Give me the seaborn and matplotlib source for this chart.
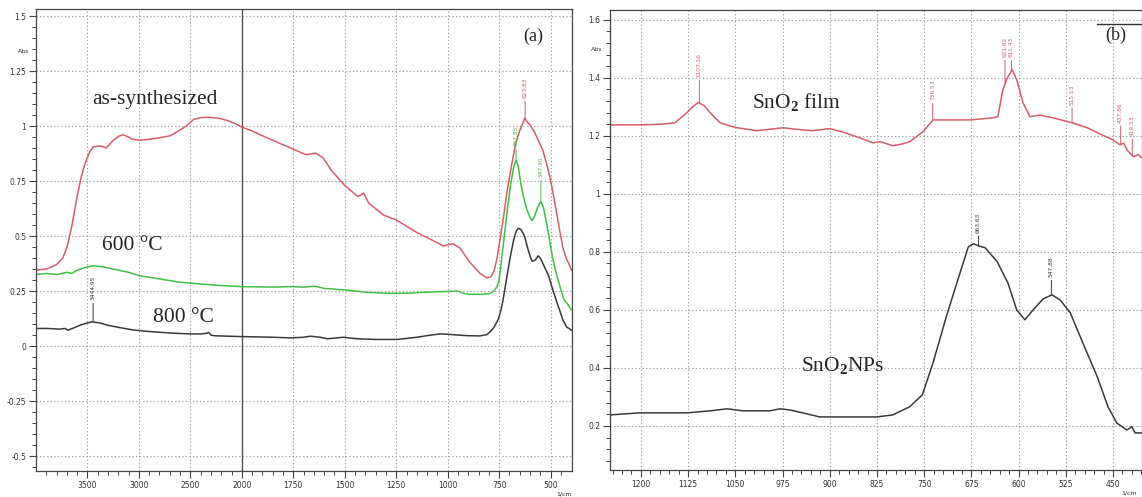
import numpy as np
import pandas as pd
import matplotlib
matplotlib.use("Agg")
import matplotlib.pyplot as plt
import seaborn as sns
from matplotlib.ticker import FixedLocator, FixedFormatter

# ---- panel (a): FTIR spectra, wavenumber (1/cm) vs absorbance ----
wn_asyn = [4000, 3900, 3800, 3740, 3698, 3650, 3600, 3560, 3523, 3480, 3444, 3376, 3318, 3249, 3190, 3152,
           3100, 3064, 2986, 2900, 2820, 2700, 2625, 2540, 2468, 2400, 2322, 2220, 2137, 2060, 2000, 1956,
           1874, 1800, 1750, 1690, 1640, 1605, 1566, 1500, 1437, 1415, 1408, 1384, 1311, 1250, 1148, 1051,
           1022, 990, 974, 940, 892, 843, 810, 790, 775, 760, 748, 730, 712, 690, 670, 650, 636, 626, 615,
           600, 580, 567, 550, 538, 520, 504, 487, 470, 455, 441, 425, 412, 398]
abs_asyn = [0.345, 0.35, 0.37, 0.40, 0.45, 0.55, 0.68, 0.77, 0.83, 0.88, 0.905, 0.91, 0.90, 0.935, 0.955, 0.96,
            0.95, 0.94, 0.935, 0.94, 0.945, 0.955, 0.975, 1.00, 1.03, 1.038, 1.04, 1.035, 1.025, 1.01, 0.995, 0.98,
            0.945, 0.915, 0.895, 0.87, 0.877, 0.855, 0.80, 0.73, 0.68, 0.69, 0.695, 0.65, 0.595, 0.573, 0.515, 0.47,
            0.455, 0.462, 0.465, 0.445, 0.38, 0.33, 0.31, 0.315, 0.34, 0.40, 0.47, 0.58, 0.70, 0.82, 0.92, 0.98,
            1.01, 1.036, 1.02, 1.005, 0.975, 0.95, 0.915, 0.89, 0.83, 0.77, 0.69, 0.60, 0.52, 0.45, 0.40, 0.375,
            0.345]

wn_600 = [4000, 3900, 3800, 3700, 3650, 3600, 3500, 3440, 3350, 3250, 3100, 3000, 2800, 2600, 2400, 2200,
          2000, 1850, 1760, 1700, 1645, 1600, 1500, 1400, 1300, 1200, 1100, 1000, 950, 925, 900, 840, 800,
          775, 760, 750, 740, 725, 710, 695, 680, 668, 658, 645, 630, 615, 600, 590, 578, 565, 553, 546, 535,
          520, 505, 490, 470, 450, 435, 420, 410, 400]
abs_600 = [0.325, 0.33, 0.325, 0.335, 0.33, 0.345, 0.36, 0.365, 0.36, 0.35, 0.335, 0.32, 0.305, 0.29, 0.282,
           0.275, 0.27, 0.268, 0.27, 0.268, 0.272, 0.262, 0.255, 0.245, 0.24, 0.24, 0.245, 0.248, 0.25, 0.24,
           0.235, 0.235, 0.237, 0.25, 0.27, 0.30, 0.38, 0.50, 0.62, 0.73, 0.81, 0.845, 0.82, 0.74, 0.67, 0.62,
           0.585, 0.57, 0.59, 0.625, 0.65, 0.655, 0.63, 0.56, 0.48, 0.40, 0.32, 0.255, 0.21, 0.195, 0.18, 0.165]

wn_800 = [4000, 3900, 3767, 3720, 3688, 3620, 3571, 3500, 3454, 3380, 3308, 3200, 3054, 2900, 2722, 2600,
          2507, 2400, 2340, 2322, 2300, 2273, 2150, 2000, 1850, 1763, 1700, 1666, 1620, 1583, 1540, 1506,
          1470, 1438, 1350, 1244, 1150, 1080, 1036, 990, 953, 900, 842, 810, 794, 775, 755, 742, 731, 715,
          697, 680, 668, 658, 645, 632, 624, 610, 600, 590, 575, 561, 550, 530, 510, 489, 470, 455, 441, 430,
          421, 410, 397]
abs_800 = [0.08, 0.08, 0.077, 0.08, 0.072, 0.085, 0.095, 0.105, 0.11, 0.105, 0.095, 0.085, 0.073, 0.066, 0.06,
           0.057, 0.055, 0.055, 0.058, 0.062, 0.05, 0.047, 0.045, 0.043, 0.04, 0.037, 0.04, 0.045, 0.04, 0.033,
           0.037, 0.04, 0.036, 0.033, 0.03, 0.03, 0.04, 0.05, 0.055, 0.053, 0.05, 0.047, 0.046, 0.052, 0.065,
           0.085, 0.12, 0.16, 0.21, 0.30, 0.40, 0.48, 0.52, 0.535, 0.53, 0.51, 0.49, 0.44, 0.41, 0.385, 0.39,
           0.41, 0.40, 0.36, 0.32, 0.255, 0.20, 0.16, 0.12, 0.10, 0.085, 0.08, 0.07]

# ---- panel (b) ----
wn_film = [1249, 1202, 1170, 1146, 1127, 1118, 1109, 1100, 1090, 1074, 1060, 1047, 1016, 990, 974, 950, 927,
           900, 879, 852, 831, 820, 800, 785, 773, 752, 736, 714, 677, 641, 633, 625, 618, 610, 603, 593, 582,
           566, 545, 515, 491, 471, 450, 439, 433, 428, 418, 410, 404]
abs_film = [1.238, 1.238, 1.240, 1.245, 1.28, 1.30, 1.315, 1.305, 1.28, 1.245, 1.235, 1.228, 1.218, 1.224,
            1.228, 1.222, 1.218, 1.225, 1.213, 1.193, 1.176, 1.180, 1.166, 1.172, 1.18, 1.214, 1.255, 1.255,
            1.255, 1.262, 1.266, 1.359, 1.40, 1.428, 1.393, 1.314, 1.266, 1.272, 1.262, 1.245, 1.228, 1.207,
            1.186, 1.169, 1.175, 1.152, 1.128, 1.135, 1.124]

wn_nps = [1249, 1202, 1127, 1090, 1063, 1038, 995, 979, 963, 943, 916, 873, 825, 800, 773, 753, 736, 714,
          693, 680, 672, 665, 653, 634, 617, 603, 590, 577, 561, 547, 534, 518, 498, 475, 458, 444, 428, 420,
          415, 404]
abs_nps = [0.238, 0.245, 0.245, 0.252, 0.259, 0.252, 0.252, 0.259, 0.255, 0.245, 0.231, 0.231, 0.231, 0.238,
           0.266, 0.307, 0.417, 0.583, 0.728, 0.817, 0.828, 0.822, 0.814, 0.766, 0.693, 0.60, 0.566, 0.60,
           0.638, 0.652, 0.634, 0.59, 0.486, 0.369, 0.266, 0.21, 0.186, 0.197, 0.176, 0.176]

# peak picks: (position, stem length in px)
peaks_asyn = [(623.83, 21)]
peaks_600 = [(667.85, 14), (547.30, 25)]
peaks_800 = [(3444.95, 22)]
peaks_film = [(1107.16, 26), (736.53, 20), (621.62, 27), (611.43, 14), (515.13, 18), (437.86, 22), (419.53, 20)]
peaks_nps = [(663.63, 13), (547.88, 18)]

# ticks
a_xticks = [3500, 3000, 2500, 2000, 1750, 1500, 1250, 1000, 750, 500]
a_yticks = [1.5, 1.25, 1, 0.75, 0.5, 0.25, 0, -0.25, -0.5]
a_ylabels = ['1.5', '1.25', '1', '0.75', '0.5', '0.25', '0', '-0.25', '-0.5']
b_xticks = [1200, 1125, 1050, 975, 900, 825, 750, 675, 600, 525, 450]
b_yticks = [0.2, 0.4, 0.6, 0.8, 1.0, 1.2, 1.4, 1.6]
b_ylabels = ['0.2', '0.4', '0.6', '0.8', '1', '1.2', '1.4', '1.6']

RED = '#d65c66'
GREEN = '#3fbf44'
BLACK = '#3a3a3a'

sns.set_theme(style="white")
plt.rcParams['font.family'] = ['Liberation Serif', 'DejaVu Serif']
plt.rcParams['mathtext.fontset'] = 'custom'
plt.rcParams['mathtext.rm'] = 'Liberation Serif'
plt.rcParams['mathtext.it'] = 'Liberation Serif:italic'
plt.rcParams['mathtext.bf'] = 'Liberation Serif:bold'

fig = plt.figure(figsize=(11.42, 4.97), dpi=100)
axa = fig.add_axes([0.0315, 0.0523, 0.4694, 0.9296])
axb = fig.add_axes([0.5342, 0.0543, 0.4658, 0.9256])


# FTIR style axis: below 2000 1/cm the scale is stretched 2x
def fwd(w):
    w = np.asarray(w, dtype=float)
    return np.where(w > 2000, 2000 + (w - 2000) / 2.0, w)


def inv(u):
    u = np.asarray(u, dtype=float)
    return np.where(u > 2000, 2000 + (u - 2000) * 2.0, u)


def draw(ax, wn, ab, color, peaks):
    df = pd.DataFrame({'wn': wn, 'abs': ab})
    sns.lineplot(data=df, x='wn', y='abs', color=color, lw=1.1, ax=ax, estimator=None, sort=True)
    xs = np.array(wn[::-1], dtype=float)
    ys = np.array(ab[::-1], dtype=float)
    for p, L in peaks:
        yp = np.interp(p, xs, ys)
        ax.annotate('%.2f' % p, xy=(p, yp), xytext=(0, L), textcoords='offset pixels',
                    rotation=90, ha='center', va='bottom', fontsize=4.2, color=color,
                    family='DejaVu Sans',
                    arrowprops=dict(arrowstyle='-', lw=0.7, color=color, shrinkA=0, shrinkB=0))


def style(ax):
    ax.grid(True, which='major', color='#a0a0a0', ls=(0, (1.2, 2.0)), lw=0.8)
    for s in ax.spines.values():
        s.set_color('#444444')
        s.set_linewidth(0.9)
    ax.tick_params(which='major', direction='out', length=5, width=0.8, color='#444444',
                   labelsize=5.5, pad=2, left=True, bottom=True)
    ax.tick_params(which='minor', direction='out', length=3, width=0.7, color='#444444',
                   left=True, bottom=True)
    for lab in ax.get_xticklabels() + ax.get_yticklabels():
        lab.set_family('DejaVu Sans')
        lab.set_color('#333333')
    ax.set_xlabel('')
    ax.set_ylabel('')


# ---- (a) ----
axa.set_xscale('function', functions=(fwd, inv))
draw(axa, wn_asyn, abs_asyn, RED, peaks_asyn)
draw(axa, wn_600, abs_600, GREEN, peaks_600)
draw(axa, wn_800, abs_800, BLACK, peaks_800)
axa.axvline(2000, color='#555555', lw=1.0, zorder=1)
axa.set_xlim(4000, 396)
axa.set_ylim(-0.568, 1.532)
axa.xaxis.set_major_locator(FixedLocator(a_xticks))
axa.xaxis.set_major_formatter(FixedFormatter([str(t) for t in a_xticks]))
axa.xaxis.set_minor_locator(FixedLocator(list(range(3900, 2000, -100)) + list(range(1950, 400, -50))))
axa.yaxis.set_major_locator(FixedLocator(a_yticks))
axa.yaxis.set_major_formatter(FixedFormatter(a_ylabels))
axa.yaxis.set_minor_locator(FixedLocator(np.arange(-0.55, 1.53, 0.05)))
style(axa)

axa.text(2849, 1.12, 'as-synthesized', fontsize=15.5, ha='center', va='center')
axa.text(3060, 0.455, '600 \u00b0C', fontsize=15.5, ha='center', va='center')
axa.text(2566, 0.13, '800 \u00b0C', fontsize=15.5, ha='center', va='center')
axa.text(0.928, 0.94, '(a)', transform=axa.transAxes, fontsize=13, ha='center', va='center')
axa.text(-0.013, 0.907, 'Abs', transform=axa.transAxes, fontsize=4.5, ha='right', va='center',
         family='DejaVu Sans', color='#333333')
axa.text(0.985, -0.05, '1/cm', transform=axa.transAxes, fontsize=4.5, ha='center', va='center',
         family='DejaVu Sans', color='#333333')

# ---- (b) ----
draw(axb, wn_film, abs_film, RED, peaks_film)
draw(axb, wn_nps, abs_nps, BLACK, peaks_nps)
axb.set_xlim(1249, 404)
axb.set_ylim(0.048, 1.634)
axb.xaxis.set_major_locator(FixedLocator(b_xticks))
axb.xaxis.set_major_formatter(FixedFormatter([str(t) for t in b_xticks]))
axb.xaxis.set_minor_locator(FixedLocator(np.arange(1245, 400, -15)))
axb.yaxis.set_major_locator(FixedLocator(b_yticks))
axb.yaxis.set_major_formatter(FixedFormatter(b_ylabels))
axb.yaxis.set_minor_locator(FixedLocator(np.arange(0.08, 1.63, 0.04)))
style(axb)

axb.text(952, 1.317, 'SnO$_\\mathbf{2}$ film', fontsize=15.5, ha='center', va='center')
axb.text(879, 0.407, 'SnO$_\\mathbf{2}$NPs', fontsize=15.5, ha='center', va='center')
axb.text(0.95, 0.945, '(b)', transform=axb.transAxes, fontsize=13, ha='center', va='center')
axb.plot([0.915, 1.0], [0.97, 0.97], transform=axb.transAxes, color='#333333', lw=1.0, clip_on=False)
axb.text(-0.015, 0.915, 'Abs', transform=axb.transAxes, fontsize=4.5, ha='right', va='center',
         family='DejaVu Sans', color='#333333')
axb.text(0.975, -0.05, '1/cm', transform=axb.transAxes, fontsize=4.5, ha='center', va='center',
         family='DejaVu Sans', color='#333333')

fig.savefig('out.png', dpi=100)
